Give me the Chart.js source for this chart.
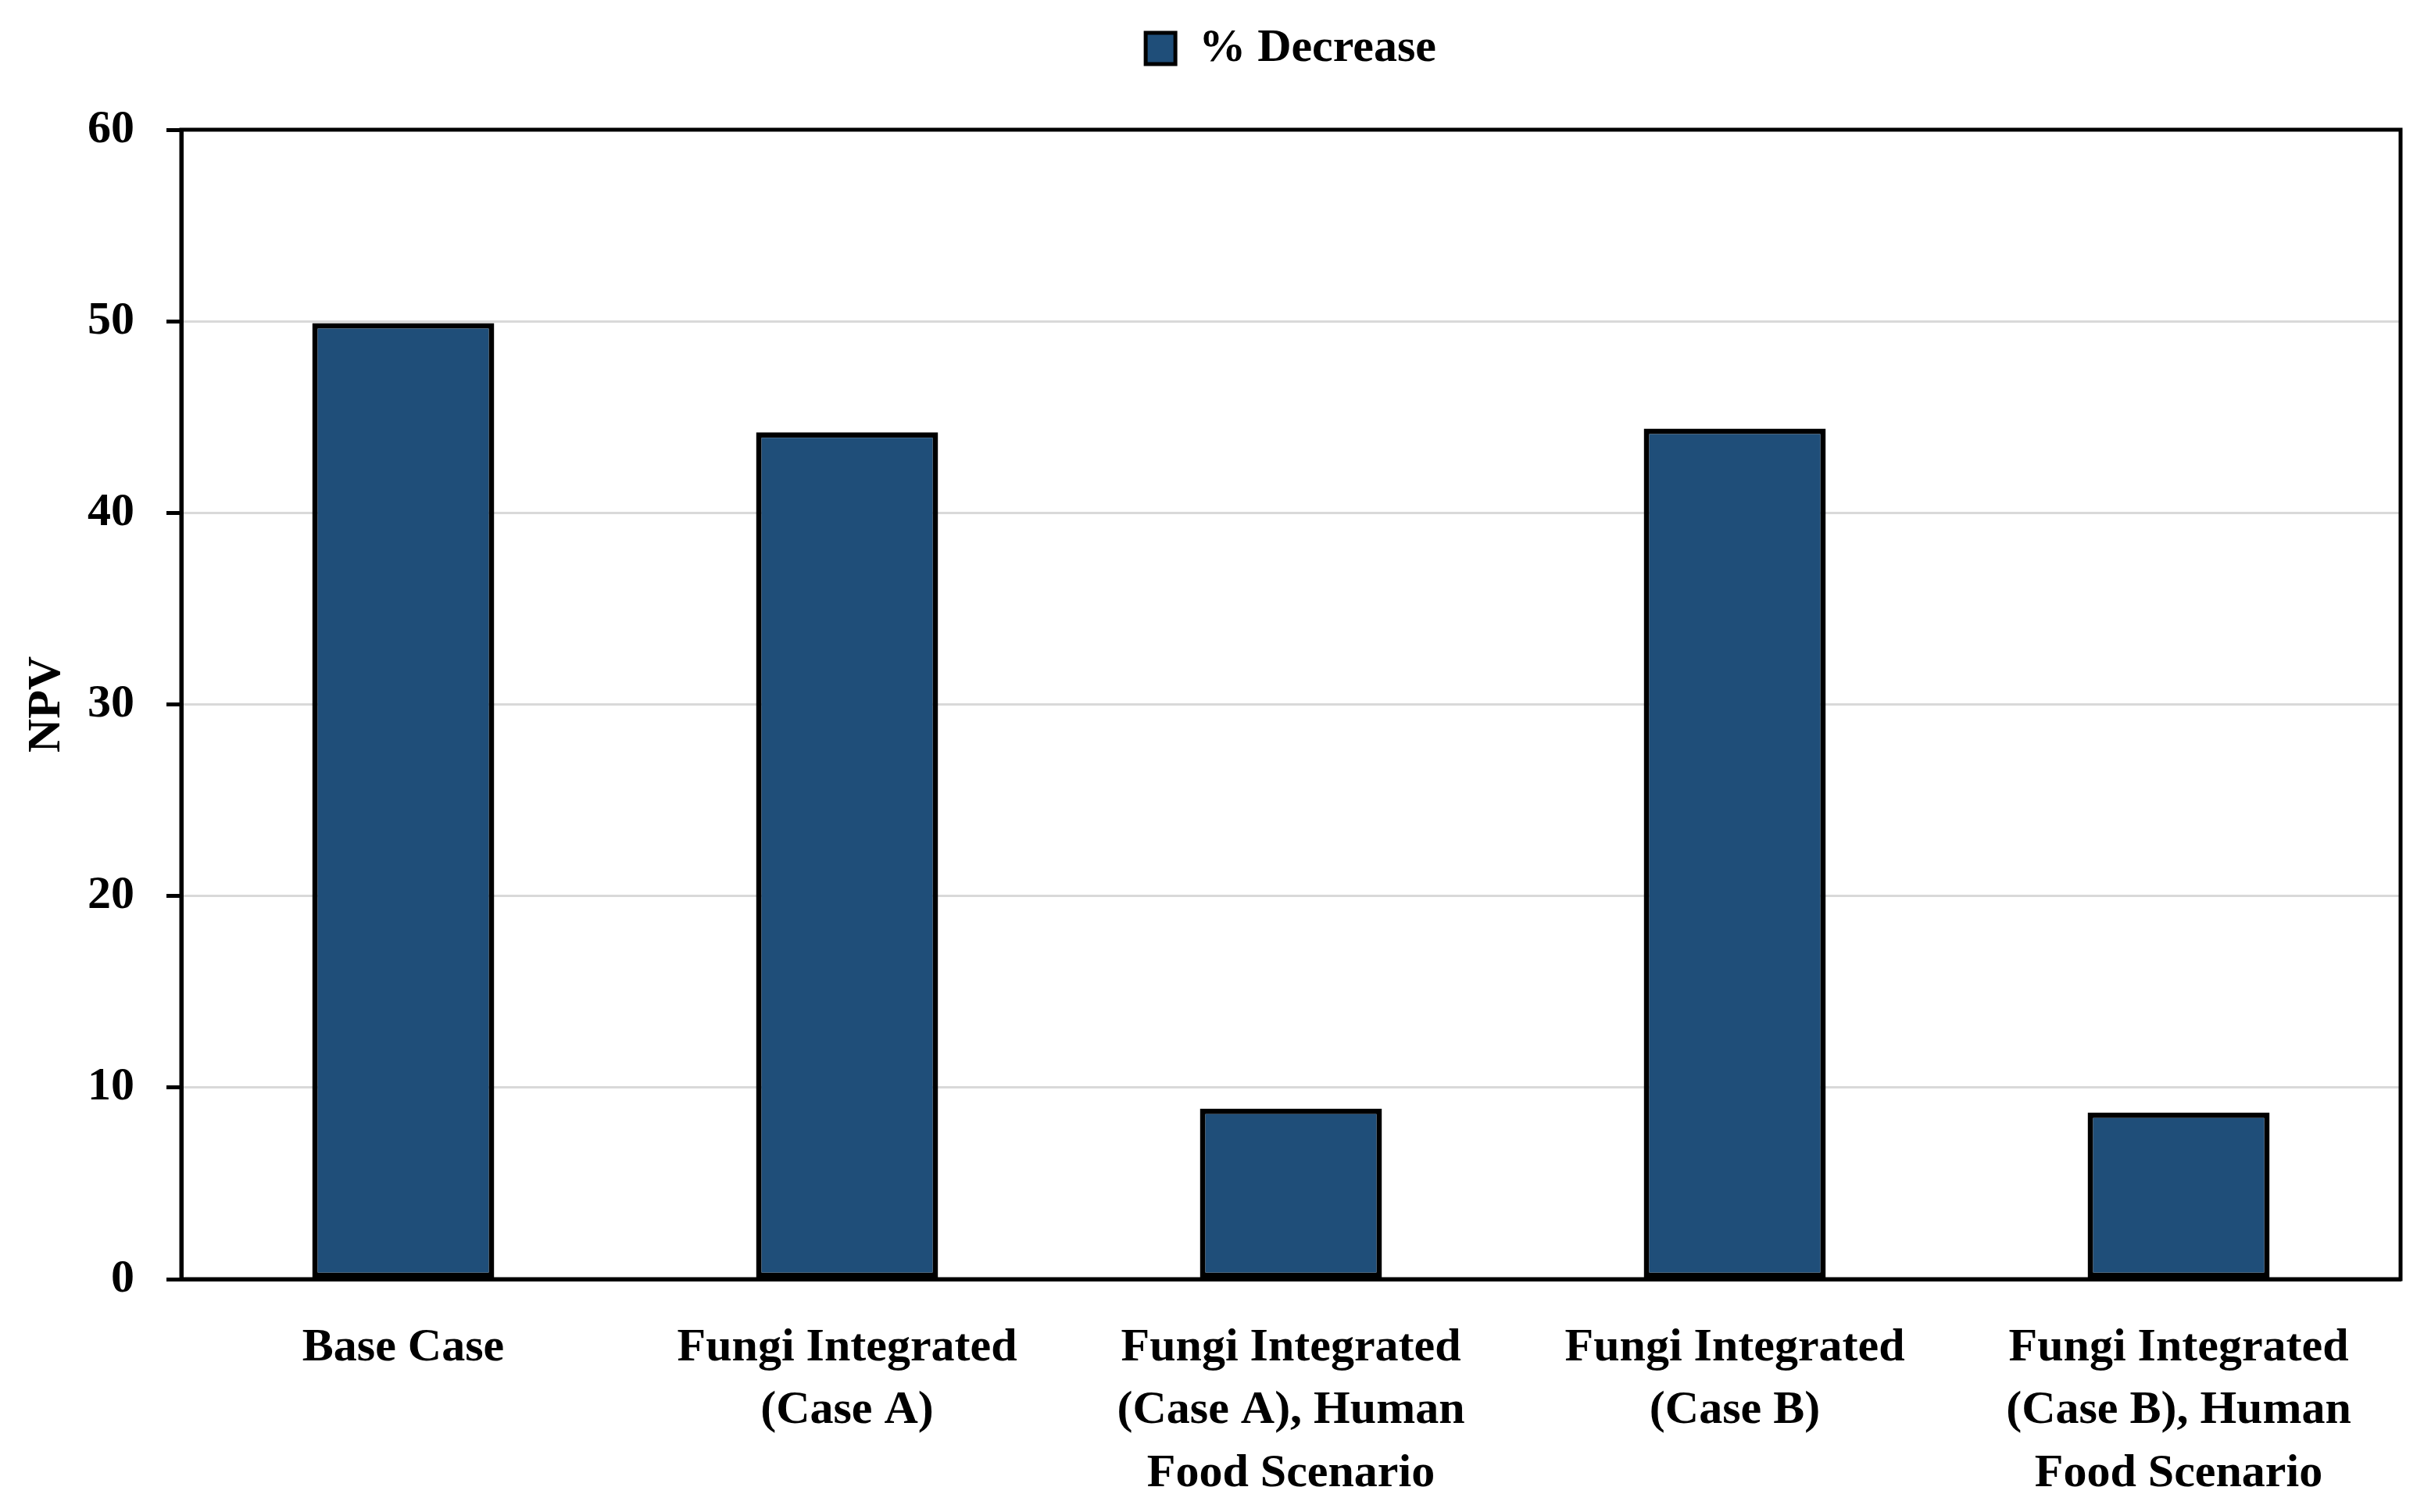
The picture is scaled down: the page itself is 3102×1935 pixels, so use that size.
<!DOCTYPE html>
<html lang="en">
<head>
    <meta charset="UTF-8">
    <title>NPV % Decrease</title>
    <script src="https://cdn.jsdelivr.net/npm/chart.js"></script>
    <style>
        html, body { margin: 0; padding: 0; background: #ffffff; }
        .contenedor { width: 3102px; height: 1935px; }
    </style>
</head>
<body>
    <div class="contenedor">
        <canvas id="grafico"></canvas>
    </div>

    <script>
        // datos
        const categorias = [
            ['Base Case'],
            ['Fungi Integrated', '(Case A)'],
            ['Fungi Integrated', '(Case A), Human', 'Food Scenario'],
            ['Fungi Integrated', '(Case B)'],
            ['Fungi Integrated', '(Case B), Human', 'Food Scenario']
        ];
        const decremento = [49.9, 44.2, 8.9, 44.4, 8.7];
        const serieNombre = '% Decrease';
        const ejeYTitulo = 'NPV';
        const ejeYMin = 0, ejeYMax = 60, ejeYPaso = 10;

        const fuente = "'Palatino Linotype', 'Book Antiqua', Palatino, 'Liberation Serif', serif";

        // marco negro alrededor del area del grafico
        const marco = {
            id: 'marco',
            beforeInit(chart) {
                const fitOriginal = chart.legend.fit;
                chart.legend.fit = function () {
                    fitOriginal.call(this);
                    this.height += 64;
                };
            },
            afterDraw(chart) {
                const { ctx, chartArea: a } = chart;
                ctx.save();
                ctx.strokeStyle = '#000';
                ctx.lineWidth = 5;
                ctx.strokeRect(a.left, a.top, a.right - a.left, a.bottom - a.top);
                ctx.restore();
            }
        };

        let ctx = document.getElementById('grafico').getContext('2d');
        let chart = new Chart(ctx, {
            type: 'bar',
            data: {
                labels: categorias,
                datasets: [{
                    label: serieNombre,
                    data: decremento,
                    backgroundColor: '#1f4e79',
                    borderColor: '#000000',
                    borderWidth: 7,
                    borderSkipped: false,
                    categoryPercentage: 1,
                    barPercentage: 0.41
                }]
            },
            options: {
                responsive: true,
                maintainAspectRatio: false,
                animation: false,
                layout: { padding: { top: 22, right: 30, bottom: 0, left: 0 } },
                plugins: {
                    tooltip: { enabled: false },
                    legend: {
                        position: 'top',
                        fullSize: false,
                        labels: {
                            color: '#000',
                            font: { family: fuente, size: 60, weight: 'bold' },
                            boxWidth: 38,
                            boxHeight: 40,
                            padding: 10,
                            generateLabels(c) {
                                const items = Chart.defaults.plugins.legend.labels.generateLabels(c);
                                items.forEach(it => { it.lineWidth = 5; });
                                return items;
                            }
                        }
                    }
                },
                scales: {
                    x: {
                        grid: { display: false },
                        border: { display: true, color: '#000', width: 5 },
                        ticks: {
                            color: '#000',
                            font: { family: fuente, size: 60, weight: 'bold', lineHeight: 1.34 },
                            padding: 40,
                            maxRotation: 0,
                            autoSkip: false
                        },
                        afterFit(s) { s.height = 298; }
                    },
                    y: {
                        min: ejeYMin,
                        max: ejeYMax,
                        grid: {
                            color: '#d9d9d9',
                            lineWidth: 3,
                            tickColor: '#000',
                            tickWidth: 5,
                            tickLength: 19
                        },
                        border: { display: true, color: '#000', width: 5 },
                        ticks: {
                            stepSize: ejeYPaso,
                            color: '#000',
                            font: { family: fuente, size: 60, weight: 'bold' },
                            padding: 41
                        },
                        title: {
                            display: true,
                            text: ejeYTitulo,
                            color: '#000',
                            font: { family: fuente, size: 60, weight: 'bold' },
                            padding: { top: 24, bottom: 0 }
                        },
                        afterFit(s) { s.width = 232; }
                    }
                }
            },
            plugins: [marco]
        });
    </script>
</body>
</html>
